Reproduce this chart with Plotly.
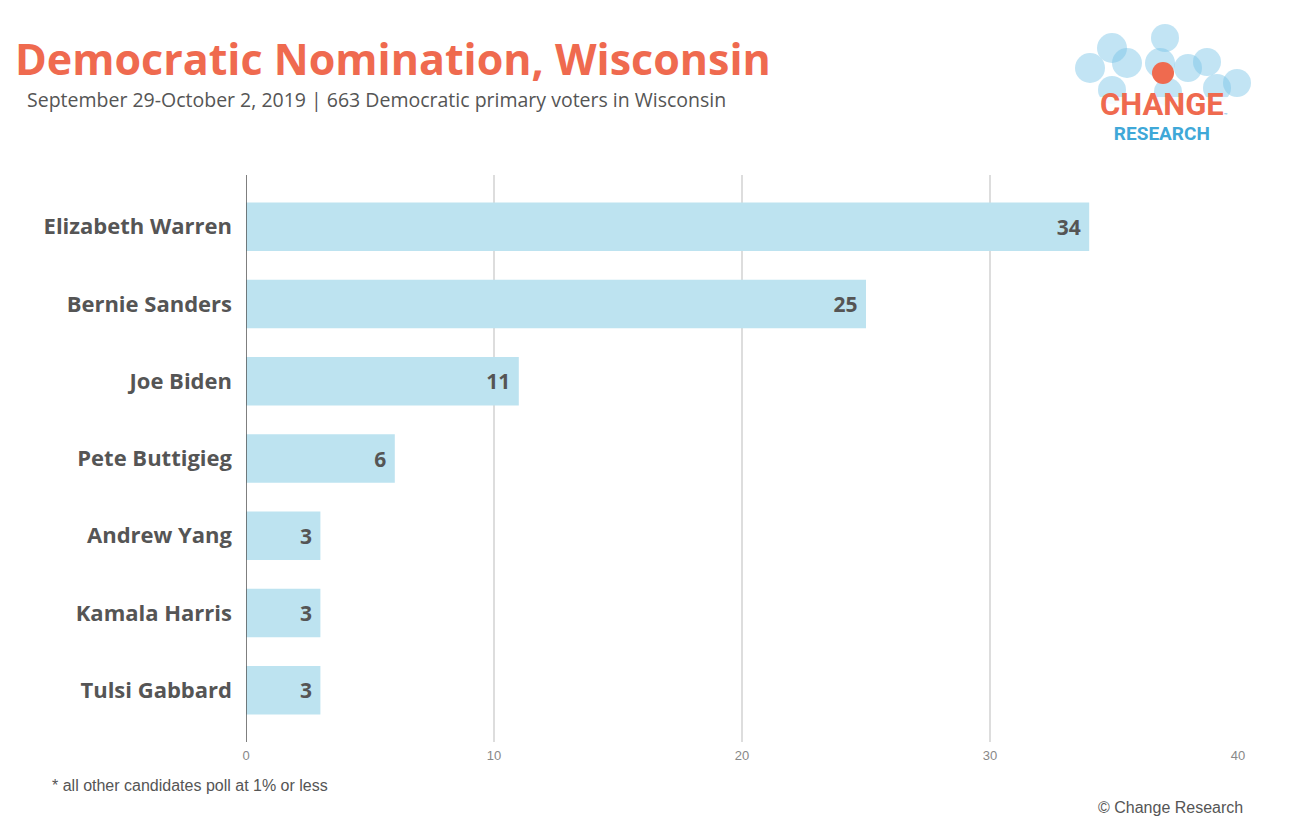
import plotly.graph_objects as go

candidates = ["Elizabeth Warren", "Bernie Sanders", "Joe Biden", "Pete Buttigieg",
              "Andrew Yang", "Kamala Harris", "Tulsi Gabbard"]
values = [34, 25, 11, 6, 3, 3, 3]
x_ticks = [0, 10, 20, 30, 40]

W, H = 1299, 835
ML, MR, MT, MB = 246, 61, 175, 93
PW, PH = W - ML - MR, H - MT - MB

def px(x):
    return (x - ML) / PW

def py(y):
    return 1 - (y - MT) / PH

fig = go.Figure()
fig.add_trace(go.Bar(
    x=values, y=candidates, orientation="h",
    marker=dict(color="#bde3f0", line=dict(width=0)),
    text=[f"{v}\u00a0" for v in values], textposition="inside", insidetextanchor="end",
    textfont=dict(family="Open Sans", size=21, color="#555555", weight="bold"),
    cliponaxis=False, hoverinfo="skip",
))

shapes = []
circles = [(1090, 68, 15), (1112, 48, 15), (1127, 63, 15), (1165, 38, 14),
           (1160, 63, 15), (1188, 68, 14), (1207, 62, 14), (1237, 83, 14),
           (1112, 90, 14), (1217, 88, 14), (1168, 92, 14)]
for cx, cy, r in circles:
    shapes.append(dict(type="circle", xref="paper", yref="paper",
                       x0=px(cx - r), x1=px(cx + r), y0=py(cy + r), y1=py(cy - r),
                       fillcolor="rgba(120,195,230,0.45)", line=dict(width=0), layer="above"))
cx, cy, r = 1163, 73, 11
shapes.append(dict(type="circle", xref="paper", yref="paper",
                   x0=px(cx - r), x1=px(cx + r), y0=py(cy + r), y1=py(cy - r),
                   fillcolor="#ef6a4f", line=dict(width=0), layer="above"))
shapes.append(dict(type="rect", xref="paper", yref="paper",
                   x0=px(1088), x1=px(1252), y0=py(142), y1=py(97),
                   fillcolor="rgba(255,255,255,0.85)", line=dict(width=0), layer="above"))
shapes.append(dict(type="line", xref="x", yref="paper", x0=0, x1=0, y0=0, y1=1,
                   line=dict(color="#555555", width=1.5), layer="above"))

annotations = [
    dict(text="<b>Democratic Nomination, Wisconsin</b>", x=px(14), y=py(58),
         xref="paper", yref="paper", xanchor="left", yanchor="middle", showarrow=False,
         borderpad=0, font=dict(family="Open Sans", size=43, color="#ef6a4f")),
    dict(text="September 29-October 2, 2019 | 663 Democratic primary voters in Wisconsin",
         x=px(26), y=py(99), xref="paper", yref="paper", xanchor="left", yanchor="middle",
         showarrow=False, borderpad=0,
         font=dict(family="Open Sans", size=19.5, color="#555555")),
    dict(text="* all other candidates poll at 1% or less", x=px(50), y=py(785),
         xref="paper", yref="paper", xanchor="left", yanchor="middle", showarrow=False,
         font=dict(family="Liberation Sans", size=16, color="#555555")),
    dict(text="© Change Research", x=px(1245), y=py(807),
         xref="paper", yref="paper", xanchor="right", yanchor="middle", showarrow=False,
         font=dict(family="Liberation Sans", size=16, color="#555555")),
    dict(text="<b><span style='font-size:31px;color:#ef6a4f'>CHANGE</span><br>"
              "<span style='font-size:19px;color:#3fa8d8'>RESEARCH</span></b>",
         x=px(1162), y=py(115), xref="paper", yref="paper",
         xanchor="center", yanchor="middle", showarrow=False,
         font=dict(family="Roboto", size=19, color="#3fa8d8")),
    dict(text="™", x=px(1222), y=py(114), xref="paper", yref="paper",
         xanchor="left", yanchor="middle", showarrow=False,
         font=dict(family="Roboto", size=6, color="#3fa8d8")),
]

fig.update_layout(
    width=W, height=H,
    margin=dict(l=ML, r=MR, t=MT, b=MB, autoexpand=False),
    paper_bgcolor="white", plot_bgcolor="white",
    showlegend=False, bargap=0.37,
    shapes=shapes, annotations=annotations,
    xaxis=dict(range=[0, 40], tickvals=x_ticks, showgrid=True, gridcolor="#dddddd",
               gridwidth=1.5, zeroline=False, showline=False, ticks="",
               tickfont=dict(family="Liberation Sans", size=13, color="#888888"),
               ticklabelstandoff=4),
    yaxis=dict(categoryorder="array", categoryarray=candidates, range=[6.67, -0.67],
               showgrid=False, zeroline=False, showline=False, ticks="",
               ticklabelstandoff=13,
               tickfont=dict(family="Open Sans", size=22, color="#555555", weight="bold")),
)

fig.write_html("out.html", config={"displayModeBar": False},
               post_script="document.body.style.margin='0';")
